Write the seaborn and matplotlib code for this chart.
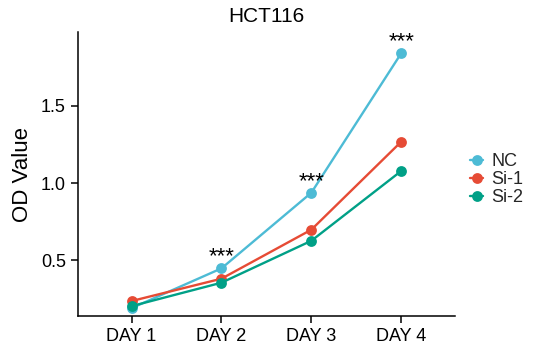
import matplotlib
matplotlib.use("Agg")
import matplotlib.pyplot as plt
import seaborn as sns
import pandas as pd

days = ["DAY 1", "DAY 2", "DAY 3", "DAY 4"]
groups = ["NC", "Si-1", "Si-2"]
nc = [0.188, 0.446, 0.937, 1.842]
si1 = [0.234, 0.379, 0.697, 1.268]
si2 = [0.201, 0.353, 0.625, 1.078]
colors = ["#4DBBD5", "#E64B35", "#00A087"]
stars_at = ["DAY 2", "DAY 3", "DAY 4"]
stars_text = "***"

sns.set_theme(style="ticks")
plt.rcParams["font.family"] = ["Liberation Sans", "DejaVu Sans"]

df = pd.DataFrame({
    "day": days * 3,
    "od": nc + si1 + si2,
    "group": [g for g in groups for _ in days],
})

fig = plt.figure(figsize=(5.51, 3.56), dpi=100)
ax = fig.add_axes([0.141, 0.112, 0.685, 0.798])

sns.pointplot(data=df, x="day", y="od", hue="group", order=days,
              hue_order=groups, palette=colors, errorbar=None,
              markers="o", linestyles="-", markersize=6.5, linewidth=1.7,
              ax=ax)

ax.set_xlim(-0.6, 3.6)
ax.set_ylim(0.136, 1.98)
ax.set_yticks([0.5, 1.0, 1.5])
ax.set_yticklabels(["0.5", "1.0", "1.5"])
ax.set_xlabel("")
ax.set_ylabel("OD Value", fontsize=16, color="black", labelpad=6)
ax.set_title("HCT116", fontsize=15, color="black", pad=7)

for s in ["top", "right"]:
    ax.spines[s].set_visible(False)
for s in ["left", "bottom"]:
    ax.spines[s].set_color("black")
    ax.spines[s].set_linewidth(1.1)
ax.tick_params(axis="both", labelsize=13, colors="black", length=5,
               width=1.1, direction="out")

# significance marks above the NC series
for d in stars_at:
    i = days.index(d)
    ax.annotate(stars_text, xy=(i, nc[i]), xytext=(0, 0.5),
                textcoords="offset points", ha="center", va="bottom",
                fontsize=16, color="black")

handles, labels = ax.get_legend_handles_labels()
ax.legend(handles, labels, loc="center left", bbox_to_anchor=(1.02, 0.48),
          frameon=False, fontsize=13, handlelength=0.75, handletextpad=0.45,
          labelspacing=0.05, borderaxespad=0)

fig.savefig("out.png", dpi=100)
